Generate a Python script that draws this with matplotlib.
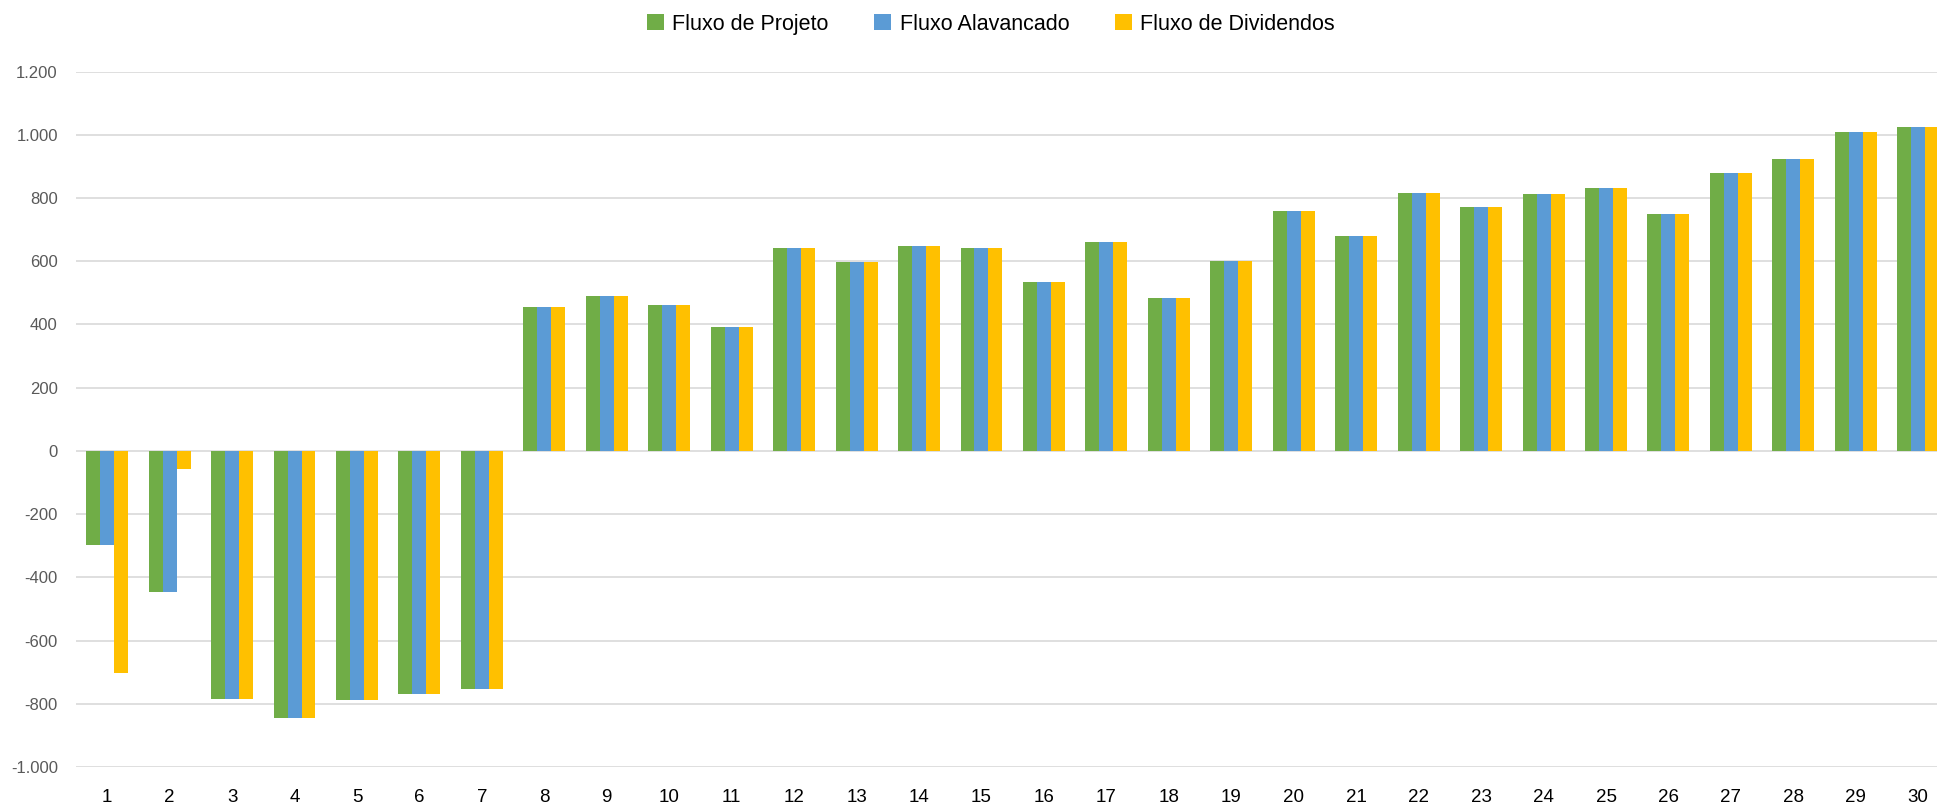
import numpy as np
import matplotlib
matplotlib.use('Agg')
import matplotlib.pyplot as plt
from matplotlib.ticker import FuncFormatter

# dati
anni = list(range(1, 31))
fluxo_projeto = [-297, -448, -785, -845, -788, -770, -754, 456, 490, 462, 391, 641, 597, 649, 641,
                 535, 662, 483, 601, 760, 679, 817, 773, 812, 833, 751, 878, 924, 1009, 1026]
fluxo_alavancado = [-297, -448, -785, -845, -788, -770, -754, 456, 490, 462, 391, 641, 597, 649, 641,
                    535, 662, 483, 601, 760, 679, 817, 773, 812, 833, 751, 878, 924, 1009, 1026]
fluxo_dividendos = [-703, -58, -785, -845, -788, -770, -754, 456, 490, 462, 391, 641, 597, 649, 641,
                    535, 662, 483, 601, 760, 679, 817, 773, 812, 833, 751, 878, 924, 1009, 1026]
legend = ["Fluxo de Projeto", "Fluxo Alavancado", "Fluxo de Dividendos"]
colori = ['#70AD47', '#5B9BD5', '#FFC000']

plt.rcParams['font.family'] = ['Liberation Sans', 'DejaVu Sans']

fig = plt.figure(figsize=(19.37, 8.07), dpi=100)
ax = fig.add_axes([0.0392, 0.0496, 0.9608, 0.8617])

x = np.array(anni)
w = 0.224
serie = [fluxo_projeto, fluxo_alavancado, fluxo_dividendos]
for i in range(len(serie)):
    ax.bar(x + (i - 1) * w, serie[i], width=w, color=colori[i], label=legend[i],
           linewidth=0, zorder=3)

ax.set_xlim(0.5, 30.3)
ax.set_ylim(-1000, 1200)
ax.set_yticks(np.arange(-1000, 1201, 200))
ax.set_xticks(x)
ax.yaxis.set_major_formatter(FuncFormatter(lambda v, p: f"{int(v):,}".replace(",", ".")))
ax.grid(axis='y', color='#D9D9D9', linewidth=1.2, zorder=0)
for s in ax.spines.values():
    s.set_visible(False)
ax.tick_params(axis='y', length=0, pad=13, labelsize=12, labelcolor='#595959')
ax.tick_params(axis='x', length=0, pad=16, labelsize=13.5, labelcolor='black')

fig.legend(loc='center', bbox_to_anchor=(0.5115, 0.970), ncol=3, frameon=False,
           fontsize=15.5, handlelength=0.8, handleheight=0.8, handletextpad=0.4,
           columnspacing=2.1)

plt.savefig('out.png', dpi=100)
